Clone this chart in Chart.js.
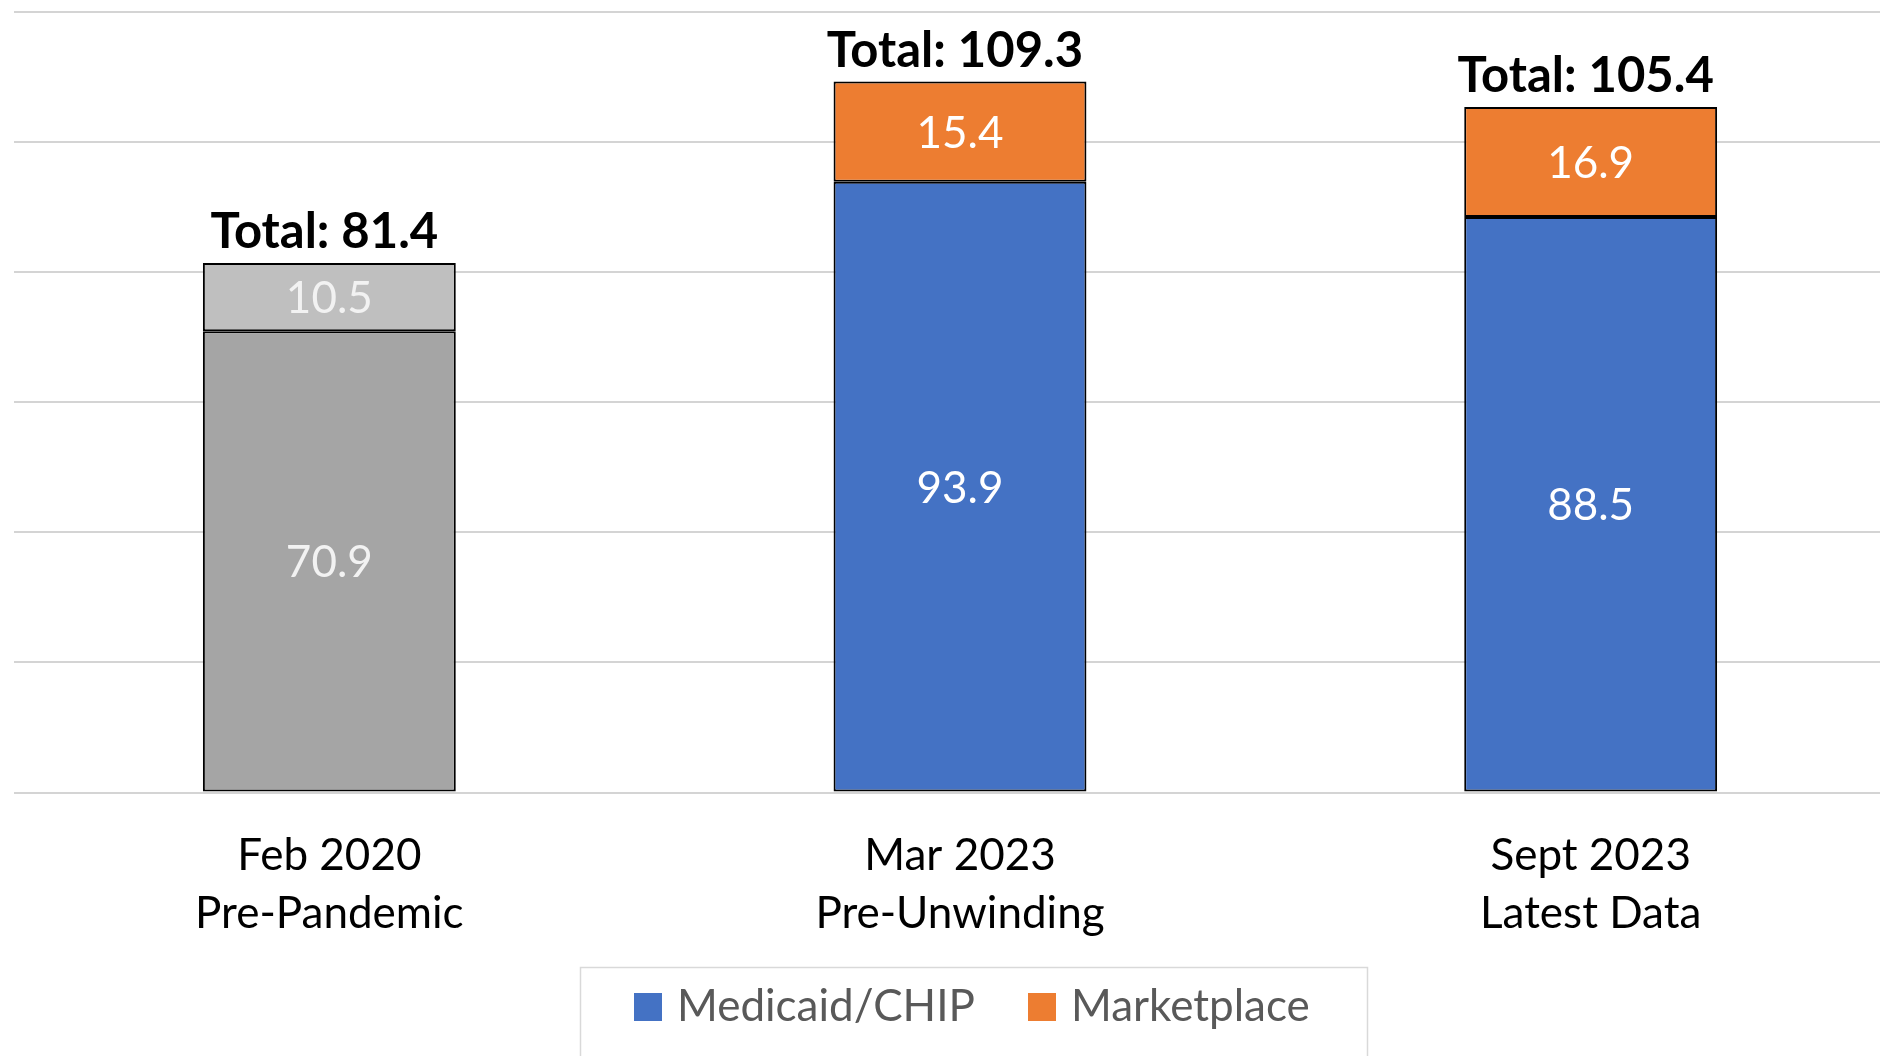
<!DOCTYPE html>
<html>
<head>
<meta charset="utf-8">
<script src="https://cdn.jsdelivr.net/npm/chart.js@4.4.0/dist/chart.umd.min.js"></script>
<style>
  html, body { margin: 0; padding: 0; background: #fff; overflow: hidden; }
  #wrap { position: absolute; left: 0; top: 0; width: 1910px; height: 1056px; }
</style>
</head>
<body>
<div id="wrap"><canvas id="chart" width="1910" height="1056"></canvas></div>
<script>
// data (millions enrolled)
const categories = [['Feb 2020', 'Pre-Pandemic'], ['Mar 2023', 'Pre-Unwinding'], ['Sept 2023', 'Latest Data']];
const medicaidValues = [70.9, 93.9, 88.5];
const marketplaceValues = [10.5, 15.4, 16.9];
const seriesNames = ['Medicaid/CHIP', 'Marketplace'];
const yMin = 0, yMax = 120, yStep = 20;

const FONT = 'Lato, "Open Sans", sans-serif';
const medicaidColours = ['#a5a5a5', '#4472c4', '#4472c4'];
const marketColours = ['#bfbfbf', '#ed7d31', '#ed7d31'];
const legendColours = ['#4472c4', '#ed7d31'];

// white numbers inside each segment + bold totals on top
const labelPlugin = {
  id: 'labels',
  afterDatasetsDraw(chart) {
    const ctx = chart.ctx;
    ctx.save();
    ctx.textAlign = 'center';
    ctx.textBaseline = 'alphabetic';
    ctx.font = '44px ' + FONT;
    chart.data.datasets.forEach((ds, di) => {
      chart.getDatasetMeta(di).data.forEach((bar, i) => {
        const mid = (bar.y + bar.base) / 2;
        ctx.fillStyle = i === 0 ? '#f2f2f2' : '#ffffff';
        ctx.fillText(ds.data[i].toFixed(1), bar.x, mid + 16);
      });
    });
    const top = chart.getDatasetMeta(chart.data.datasets.length - 1).data;
    ctx.font = 'bold 49px ' + FONT;
    ctx.fillStyle = '#000';
    top.forEach((bar, i) => {
      const total = medicaidValues[i] + marketplaceValues[i];
      ctx.fillText('Total: ' + total.toFixed(1), bar.x - 5, bar.y - 15);
    });
    ctx.restore();
  }
};

// boxed legend under the axis labels
const legendPlugin = {
  id: 'boxLegend',
  afterDraw(chart) {
    const ctx = chart.ctx;
    const boxX = 580, boxY = 967;
    ctx.save();
    ctx.strokeStyle = '#d9d9d9';
    ctx.lineWidth = 1.5;
    ctx.strokeRect(boxX + 0.5, boxY + 0.5, 787, 110);
    ctx.font = '44px ' + FONT;
    ctx.textAlign = 'left';
    ctx.textBaseline = 'alphabetic';
    const itemX = [boxX + 54, boxX + 448];
    const sq = 28, gap = 15;
    seriesNames.forEach((n, i) => {
      ctx.fillStyle = legendColours[i];
      ctx.fillRect(itemX[i], boxY + 26, sq, sq);
      ctx.fillStyle = '#595959';
      ctx.fillText(n, itemX[i] + sq + gap, boxY + 54);
    });
    ctx.restore();
  }
};

new Chart(document.getElementById('chart'), {
  type: 'bar',
  data: {
    labels: categories,
    datasets: [
      {
        label: seriesNames[0],
        data: medicaidValues,
        backgroundColor: medicaidColours,
        borderColor: '#000',
        borderWidth: 2,
        borderSkipped: false,
      },
      {
        label: seriesNames[1],
        data: marketplaceValues,
        backgroundColor: marketColours,
        borderColor: '#000',
        borderWidth: 2,
        borderSkipped: false,
      },
    ],
  },
  options: {
    responsive: false,
    devicePixelRatio: 1,
    animation: false,
    layout: { padding: { left: 14, right: 4, top: 12, bottom: 0 } },
    plugins: { legend: { display: false }, tooltip: { enabled: false } },
    datasets: { bar: { barPercentage: 0.401, categoryPercentage: 1 } },
    scales: {
      x: {
        stacked: true,
        grid: { display: false },
        border: { display: false },
        ticks: {
          color: '#000',
          font: { family: FONT, size: 44, lineHeight: 1.33 },
          padding: 26,
          maxRotation: 0,
          autoSkip: false,
        },
        afterFit(axis) { axis.height = 263.5; },
      },
      y: {
        stacked: true,
        min: yMin,
        max: yMax,
        ticks: { display: false, stepSize: yStep },
        grid: { color: '#d4d4d4', lineWidth: 2, drawTicks: false },
        border: { display: false },
        afterFit(axis) { axis.width = 0; },
      },
    },
  },
  plugins: [labelPlugin, legendPlugin],
});
</script>
</body>
</html>
